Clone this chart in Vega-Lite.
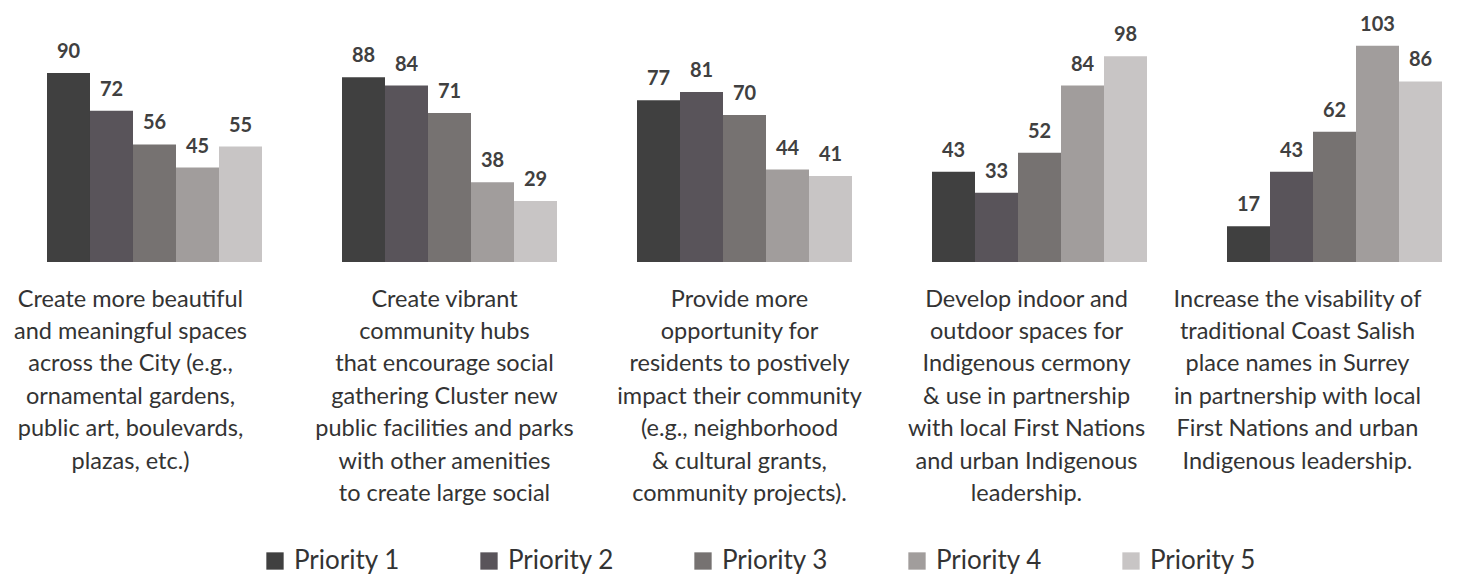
{
  "$schema": "https://vega.github.io/schema/vega-lite/v6.json",
  "width": 1395,
  "height": 231,
  "autosize": {"type": "none"},
  "padding": {"left": 47, "top": 31, "right": 23, "bottom": 313},
  "background": "white",
  "data": {
    "values": [
      {"goal": "Create more beautiful|and meaningful spaces|across the City (e.g.,|ornamental gardens,|public art, boulevards,|plazas, etc.)", "priority": "Priority 1", "count": 90},
      {"goal": "Create more beautiful|and meaningful spaces|across the City (e.g.,|ornamental gardens,|public art, boulevards,|plazas, etc.)", "priority": "Priority 2", "count": 72},
      {"goal": "Create more beautiful|and meaningful spaces|across the City (e.g.,|ornamental gardens,|public art, boulevards,|plazas, etc.)", "priority": "Priority 3", "count": 56},
      {"goal": "Create more beautiful|and meaningful spaces|across the City (e.g.,|ornamental gardens,|public art, boulevards,|plazas, etc.)", "priority": "Priority 4", "count": 45},
      {"goal": "Create more beautiful|and meaningful spaces|across the City (e.g.,|ornamental gardens,|public art, boulevards,|plazas, etc.)", "priority": "Priority 5", "count": 55},
      {"goal": "Create vibrant|community hubs|that encourage social|gathering Cluster new|public facilities and parks|with other amenities|to create large social", "priority": "Priority 1", "count": 88},
      {"goal": "Create vibrant|community hubs|that encourage social|gathering Cluster new|public facilities and parks|with other amenities|to create large social", "priority": "Priority 2", "count": 84},
      {"goal": "Create vibrant|community hubs|that encourage social|gathering Cluster new|public facilities and parks|with other amenities|to create large social", "priority": "Priority 3", "count": 71},
      {"goal": "Create vibrant|community hubs|that encourage social|gathering Cluster new|public facilities and parks|with other amenities|to create large social", "priority": "Priority 4", "count": 38},
      {"goal": "Create vibrant|community hubs|that encourage social|gathering Cluster new|public facilities and parks|with other amenities|to create large social", "priority": "Priority 5", "count": 29},
      {"goal": "Provide more|opportunity for|residents to postively|impact their community|(e.g., neighborhood|& cultural grants,|community projects).", "priority": "Priority 1", "count": 77},
      {"goal": "Provide more|opportunity for|residents to postively|impact their community|(e.g., neighborhood|& cultural grants,|community projects).", "priority": "Priority 2", "count": 81},
      {"goal": "Provide more|opportunity for|residents to postively|impact their community|(e.g., neighborhood|& cultural grants,|community projects).", "priority": "Priority 3", "count": 70},
      {"goal": "Provide more|opportunity for|residents to postively|impact their community|(e.g., neighborhood|& cultural grants,|community projects).", "priority": "Priority 4", "count": 44},
      {"goal": "Provide more|opportunity for|residents to postively|impact their community|(e.g., neighborhood|& cultural grants,|community projects).", "priority": "Priority 5", "count": 41},
      {"goal": "Develop indoor and|outdoor spaces for|Indigenous cermony|& use in partnership|with local First Nations|and urban Indigenous|leadership.", "priority": "Priority 1", "count": 43},
      {"goal": "Develop indoor and|outdoor spaces for|Indigenous cermony|& use in partnership|with local First Nations|and urban Indigenous|leadership.", "priority": "Priority 2", "count": 33},
      {"goal": "Develop indoor and|outdoor spaces for|Indigenous cermony|& use in partnership|with local First Nations|and urban Indigenous|leadership.", "priority": "Priority 3", "count": 52},
      {"goal": "Develop indoor and|outdoor spaces for|Indigenous cermony|& use in partnership|with local First Nations|and urban Indigenous|leadership.", "priority": "Priority 4", "count": 84},
      {"goal": "Develop indoor and|outdoor spaces for|Indigenous cermony|& use in partnership|with local First Nations|and urban Indigenous|leadership.", "priority": "Priority 5", "count": 98},
      {"goal": "Increase the visability of|traditional Coast Salish|place names in Surrey|in partnership with local|First Nations and urban|Indigenous leadership.", "priority": "Priority 1", "count": 17},
      {"goal": "Increase the visability of|traditional Coast Salish|place names in Surrey|in partnership with local|First Nations and urban|Indigenous leadership.", "priority": "Priority 2", "count": 43},
      {"goal": "Increase the visability of|traditional Coast Salish|place names in Surrey|in partnership with local|First Nations and urban|Indigenous leadership.", "priority": "Priority 3", "count": 62},
      {"goal": "Increase the visability of|traditional Coast Salish|place names in Surrey|in partnership with local|First Nations and urban|Indigenous leadership.", "priority": "Priority 4", "count": 103},
      {"goal": "Increase the visability of|traditional Coast Salish|place names in Surrey|in partnership with local|First Nations and urban|Indigenous leadership.", "priority": "Priority 5", "count": 86}
    ]
  },
  "encoding": {
    "x": {
      "field": "goal",
      "type": "nominal",
      "sort": null,
      "title": null,
      "scale": {"paddingInner": 0.2712, "paddingOuter": 0},
      "axis": {
        "domain": false,
        "ticks": false,
        "labelAngle": 0,
        "labelExpr": "split(datum.label, '|')",
        "labelFont": "Lato",
        "labelFontSize": 23.5,
        "labelLineHeight": 32.4,
        "labelColor": "#333333",
        "labelBaseline": "top",
        "labelPadding": 25,
        "labelLimit": 0,
        "labelOffset": {
          "condition": [
            {"test": "indexof(datum.value, 'Create more') == 0", "value": -24},
            {"test": "indexof(datum.value, 'Develop') == 0", "value": -13},
            {"test": "indexof(datum.value, 'Increase') == 0", "value": -37}
          ],
          "value": -5
        }
      }
    },
    "xOffset": {"field": "priority", "type": "nominal", "scale": {"paddingInner": 0, "paddingOuter": 0}},
    "y": {"field": "count", "type": "quantitative", "scale": {"domain": [0, 110], "nice": false}, "axis": null}
  },
  "layer": [
    {
      "mark": {"type": "bar"},
      "encoding": {
        "color": {
          "field": "priority",
          "type": "nominal",
          "title": null,
          "scale": {
            "domain": ["Priority 1", "Priority 2", "Priority 3", "Priority 4", "Priority 5"],
            "range": ["#404040", "#59545a", "#767271", "#a19d9c", "#c8c5c5"]
          },
          "legend": {
            "orient": "none",
            "legendX": 215,
            "legendY": 517,
            "direction": "horizontal",
            "columns": 5,
            "symbolType": "square",
            "symbolSize": 300,
            "symbolStrokeWidth": 0,
            "symbolOpacity": 1,
            "labelFont": "Lato",
            "labelFontSize": 26,
            "labelColor": "#333333",
            "labelOffset": 6,
            "columnPadding": 76,
            "labelLimit": 0
          }
        }
      }
    },
    {
      "mark": {"type": "text", "baseline": "alphabetic", "dy": -15, "font": "Lato", "fontSize": 20, "fontWeight": "bold", "color": "#404040"},
      "encoding": {"text": {"field": "count", "type": "quantitative"}}
    }
  ],
  "config": {"view": {"stroke": null}}
}
